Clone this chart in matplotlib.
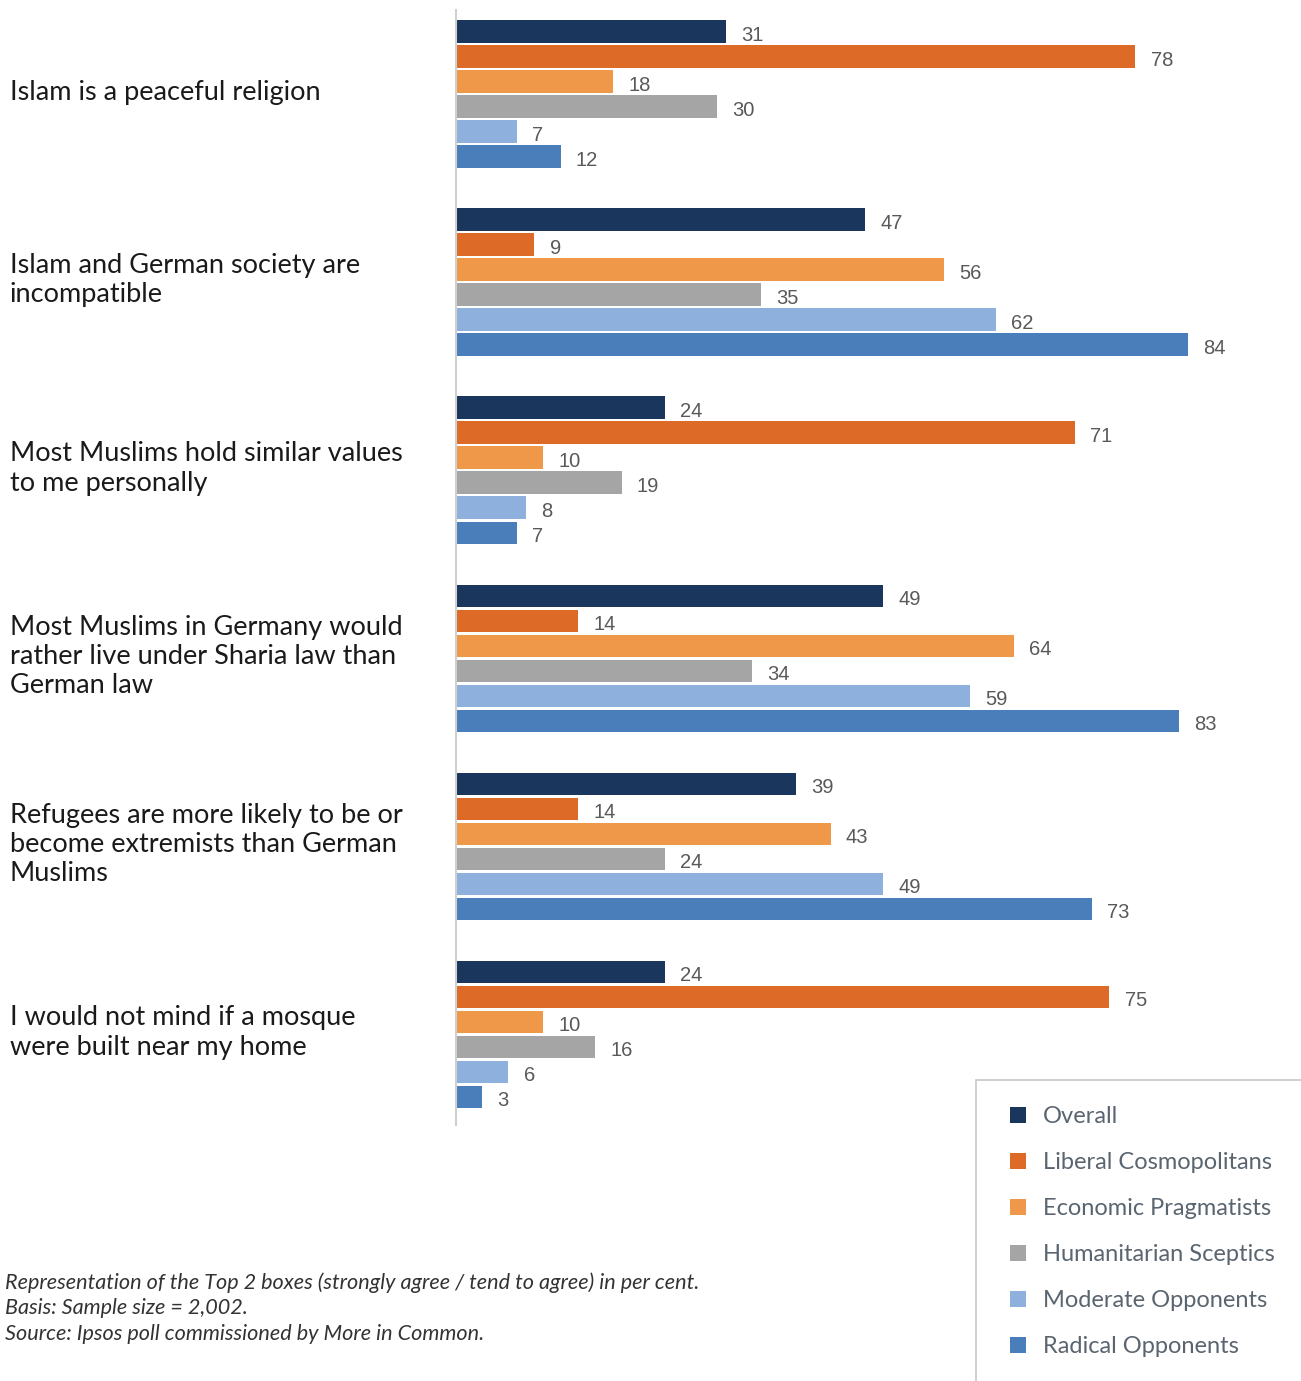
import numpy as np
import matplotlib.pyplot as plt
from matplotlib.patches import Patch, Rectangle

plt.rcParams["font.family"] = ["Lato", "DejaVu Sans"]

statements = [
    "Islam is a peaceful religion",
    "Islam and German society are\nincompatible",
    "Most Muslims hold similar values\nto me personally",
    "Most Muslims in Germany would\nrather live under Sharia law than\nGerman law",
    "Refugees are more likely to be or\nbecome extremists than German\nMuslims",
    "I would not mind if a mosque\nwere built near my home",
]
segments = ["Overall", "Liberal Cosmopolitans", "Economic Pragmatists",
            "Humanitarian Sceptics", "Moderate Opponents", "Radical Opponents"]

overall = [31, 47, 24, 49, 39, 24]
liberal = [78, 9, 71, 14, 14, 75]
economic = [18, 56, 10, 64, 43, 10]
humanitarian = [30, 35, 19, 34, 24, 16]
moderate = [7, 62, 8, 59, 49, 6]
radical = [12, 84, 7, 83, 73, 3]

series = [overall, liberal, economic, humanitarian, moderate, radical]
colors = ["#1b365d", "#dd6a27", "#f0984a", "#a5a5a5", "#8eb0dc", "#4a7ebb"]

fig = plt.figure(figsize=(13.01, 13.81), dpi=100)
ax = fig.add_axes([456 / 1301, 1 - 1125 / 1381, 845 / 1301, 1115 / 1381])

y = np.arange(len(statements))
step = 0.133
height = 0.12
for j, (vals, col) in enumerate(zip(series, colors)):
    pos = y + (j - 2.5) * step
    bars = ax.barh(pos, vals, height=height, color=col, edgecolor="none")
    for b, v in zip(bars, vals):
        ax.annotate(str(v), (b.get_width(), b.get_y() + b.get_height() / 2),
                    xytext=(11, -2.5), textcoords="offset points",
                    ha="left", va="center", fontsize=14.5, color="#595959",
                    family=["Liberation Sans", "DejaVu Sans"])

ax.set_xlim(0, 97)
ax.set_ylim(5.481, -0.447)
for s in ["top", "right", "bottom"]:
    ax.spines[s].set_visible(False)
ax.spines["left"].set_color("#d0d0d0")
ax.spines["left"].set_linewidth(1.5)
ax.set_xticks([])
ax.set_yticks([])

# statement labels on the left
for i, text in enumerate(statements):
    ax.text(-446 / 8.71, i - 0.01, text, ha="left", va="center",
            fontsize=19.5, color="#1a1a1a", linespacing=1.22)

# legend box runs off the right and bottom edges, so only draw it as a patch
fig.patches.append(Rectangle((976 / 1301, -0.1), 0.5, 0.1 + 1 - 1080 / 1381,
                             transform=fig.transFigure, facecolor="none",
                             edgecolor="#c8c8c8", linewidth=1.2))

handles = [Patch(facecolor=c, edgecolor="none") for c in colors]
leg = fig.legend(handles, segments, loc="upper left",
                 bbox_to_anchor=(1010 / 1301, 1 - 1106 / 1381),
                 frameon=False, fontsize=17,
                 handlelength=0.68, handleheight=0.68, handletextpad=0.72,
                 labelspacing=1.06, borderpad=0, borderaxespad=0)
for t in leg.get_texts():
    t.set_color("#5a6570")

notes = ("Representation of the Top 2 boxes (strongly agree / tend to agree) in per cent.\n"
         "Basis: Sample size = 2,002.\n"
         "Source: Ipsos poll commissioned by More in Common.")
fig.text(5 / 1301, 1 - 1308 / 1381, notes, ha="left", va="center",
         fontsize=15.6, style="italic", color="#333333", linespacing=1.36)

fig.savefig("out.png", dpi=100)
